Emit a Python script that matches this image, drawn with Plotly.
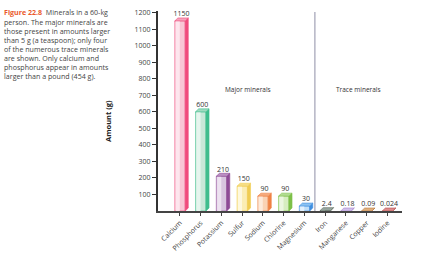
import plotly.graph_objects as go

minerals = ["Calcium", "Phosphorus", "Potassium", "Sulfur", "Sodium", "Chlorine",
            "Magnesium", "Iron", "Manganese", "Copper", "Iodine"]
amounts = [1150, 600, 210, 150, 90, 90, 30, 2.4, 0.18, 0.09, 0.024]
value_labels = ["1150", "600", "210", "150", "90", "90", "30", "2.4", "0.18", "0.09", "0.024"]
front_colors = ["#f9c6d5", "#c8e8d8", "#d8c4df", "#fbedb4", "#fad2b4", "#d6edc0", "#c0def8",
                "#b4c0b8", "#e2d6f2", "#ecc8a0", "#eeaaaa"]
light_colors = ["#fde6ee", "#e6f5ee", "#ede2f0", "#fef8de", "#fdeadb", "#ebf6e0", "#e2f0fc",
                "#d4dcd6", "#f0e8fa", "#f6e0c8", "#f8d0d0"]
side_colors = ["#f04b7c", "#3fbd8d", "#8e4b96", "#f0cc52", "#ef8244", "#7dc048", "#3f8fe0",
               "#5c6c62", "#a584cc", "#bb7c44", "#b44c4c"]
top_colors = ["#f5a3bc", "#9fdbbf", "#bb90c3", "#f6de86", "#f5aa7c", "#b1dc92", "#8bc2f2",
              "#98a69e", "#d2c0ec", "#e0b07e", "#e08e8e"]
y_ticks = [100, 200, 300, 400, 500, 600, 700, 800, 900, 1000, 1100, 1200]
caption_lines = [
    "<span style='color:#ea5a2c'><b>Figure 22.8</b></span>  Minerals in a 60-kg",
    "person. The major minerals are",
    "those present in amounts larger",
    "than 5 g (a teaspoon); only four",
    "of the numerous trace minerals",
    "are shown. Only calcium and",
    "phosphorus appear in amounts",
    "larger than a pound (454 g).",
]

W = 0.5      # bar front width (category units)
DX = 0.15    # 3D depth, x
DY = 18      # 3D depth, y (data units)

xs = list(range(len(minerals)))
fig = go.Figure()

fig.add_trace(go.Bar(x=xs, y=amounts, width=W, marker=dict(color=front_colors,
                     line=dict(color=side_colors, width=0.6)), hoverinfo="skip"))
fig.add_trace(go.Bar(x=[x - W * 0.22 for x in xs], y=amounts, width=W * 0.4,
                     marker=dict(color=light_colors, line=dict(width=0)), hoverinfo="skip"))

for i, v in enumerate(amounts):
    xl, xr = i - W / 2, i + W / 2
    fig.add_trace(go.Scatter(x=[xr, xr + DX, xr + DX, xr, xr], y=[0, DY, v + DY, v, 0],
                             fill="toself", fillcolor=side_colors[i], mode="lines",
                             line=dict(color=side_colors[i], width=0.6), hoverinfo="skip"))
    fig.add_trace(go.Scatter(x=[xl, xl + DX, xr + DX, xr, xl], y=[v, v + DY, v + DY, v, v],
                             fill="toself", fillcolor=top_colors[i], mode="lines",
                             line=dict(color=side_colors[i], width=0.6), hoverinfo="skip"))

fig.add_trace(go.Scatter(x=[x + DX / 2 for x in xs], y=[v + DY for v in amounts], mode="text",
                         text=value_labels, textposition="top center",
                         textfont=dict(size=7, color="#333", family="Open Sans"),
                         hoverinfo="skip"))

fig.add_shape(type="line", x0=6.5, x1=6.5, y0=0, y1=0.995, xref="x", yref="paper",
              line=dict(color="#b4b4c4", width=1.5))

fig.add_annotation(x=3.3, y=737, text="Major minerals", showarrow=False,
                   font=dict(size=6.5, color="#333", family="Open Sans"))
fig.add_annotation(x=8.6, y=737, text="Trace minerals", showarrow=False,
                   font=dict(size=6.5, color="#333", family="Open Sans"))

fig.add_annotation(x=(108 - 158) / 244, y=0.45, xref="paper", yref="paper", xanchor="center",
                   text="<b>Amount (g)</b>", textangle=-90, showarrow=False,
                   font=dict(size=7.5, color="#222", family="Open Sans"))

for k, line in enumerate(caption_lines):
    fig.add_annotation(x=(3 - 158) / 244, y=(212 - 9.5 - 9.3 * k) / 204, xref="paper", yref="paper",
                       xanchor="left", yanchor="middle", align="left", text=line, showarrow=False,
                       borderpad=0, font=dict(size=7.1, color="#444", family="Open Sans"))

fig.update_layout(
    width=431, height=261, margin=dict(l=158, r=29, t=8, b=49),
    paper_bgcolor="white", plot_bgcolor="white", showlegend=False, barmode="overlay",
    font=dict(family="Open Sans", size=7, color="#444"),
    xaxis=dict(range=[-1.06, 10.7], tickvals=xs, ticktext=minerals, tickangle=-45,
               showgrid=False, zeroline=False, showline=True, linecolor="#444", linewidth=2,
               ticks="outside", ticklen=3, tickcolor="#444", tickfont=dict(size=7, color="#444")),
    yaxis=dict(range=[0, 1210], tickvals=y_ticks, showgrid=False, zeroline=False,
               showline=True, linecolor="#333", linewidth=2, ticks="outside", ticklen=4,
               tickcolor="#333", tickfont=dict(size=7, color="#444")),
)

fig.write_html("out.html")
